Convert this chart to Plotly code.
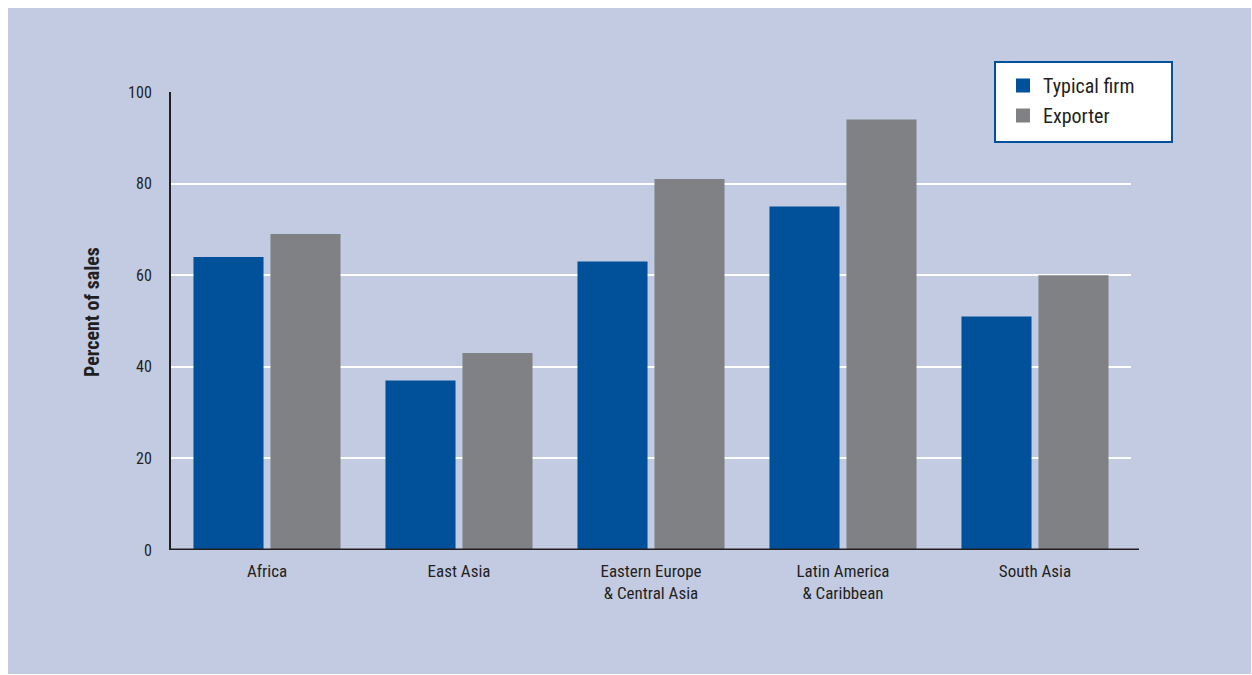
import plotly.graph_objects as go

# Share of sales, by region
regions = ["Africa", "East Asia", "Eastern Europe<br>& Central Asia",
           "Latin America<br>& Caribbean", "South Asia"]
typical_firm = [64, 37, 63, 75, 51]
exporter = [69, 43, 81, 94, 60]
y_ticks = [0, 20, 40, 60, 80, 100]

BG = "#C3CBE3"
BLUE = "#00519A"
GREY = "#808185"
INK = "#231F20"
FONT = "Liberation Sans Narrow, Roboto Condensed, Roboto, Arial, sans-serif"

# plot-area geometry in pixels (used for paper-coordinate shapes)
W, H = 1252, 675
L, R, T, B = 171, 1131, 92, 550
PW, PH = R - L, B - T


def px(x):
    return (x - L) / PW


def py(y):
    return (B - y) / PH


fig = go.Figure()
fig.add_trace(go.Bar(x=regions, y=typical_firm, marker_color=BLUE,
                     marker_line_width=0, showlegend=False, legendgroup="a"))
fig.add_trace(go.Bar(x=regions, y=exporter, marker_color=GREY,
                     marker_line_width=0, showlegend=False, legendgroup="b"))
# legend entries with larger square swatches
fig.add_trace(go.Scatter(x=[None], y=[None], mode="markers", name="Typical firm",
                         marker=dict(symbol="square", size=14, color=BLUE),
                         legendgroup="a"))
fig.add_trace(go.Scatter(x=[None], y=[None], mode="markers", name="Exporter",
                         marker=dict(symbol="square", size=14, color=GREY),
                         legendgroup="b"))

shapes = [
    # tinted panel
    dict(type="rect", xref="paper", yref="paper", layer="below",
         x0=px(8), x1=px(1251), y0=py(674), y1=py(8),
         fillcolor=BG, line_width=0),
    # legend box
    dict(type="rect", xref="paper", yref="paper", layer="below",
         x0=px(995), x1=px(1172), y0=py(142), y1=py(62),
         fillcolor="white", line=dict(color=BLUE, width=2)),
    # baseline running slightly past the last category
    dict(type="line", xref="paper", yref="y", layer="above",
         x0=px(170), x1=px(1139), y0=0, y1=0,
         line=dict(color=INK, width=3)),
]

fig.update_layout(
    width=W, height=H,
    margin=dict(l=L, r=W - R, t=T, b=H - B, autoexpand=False),
    paper_bgcolor="white",
    plot_bgcolor="rgba(0,0,0,0)",
    font=dict(family=FONT, color=INK, size=17),
    barmode="group",
    bargap=0.198,
    bargroupgap=0.09,
    shapes=shapes,
    legend=dict(x=px(1003), y=py(66), xanchor="left", yanchor="top",
                bgcolor="rgba(0,0,0,0)", borderwidth=0,
                font=dict(size=20, color=INK), tracegroupgap=1,
                itemsizing="trace"),
    xaxis=dict(showgrid=False, zeroline=False, showline=False, ticks="",
               tickfont=dict(size=17, color=INK), ticklabelstandoff=9,
               fixedrange=True),
    yaxis=dict(range=[0, 100], tickvals=y_ticks, showgrid=True,
               gridcolor="white", gridwidth=2, zeroline=False,
               showline=True, linecolor=INK, linewidth=2, ticks="",
               tickfont=dict(size=16, color=INK), ticklabelstandoff=14,
               fixedrange=True),
    annotations=[
        dict(text="<b>Percent of sales</b>", textangle=-90,
             xref="paper", yref="paper", x=px(92), y=py(312),
             xanchor="center", yanchor="middle", showarrow=False,
             font=dict(size=20, color=INK)),
    ],
)

fig.write_html("out.html")
